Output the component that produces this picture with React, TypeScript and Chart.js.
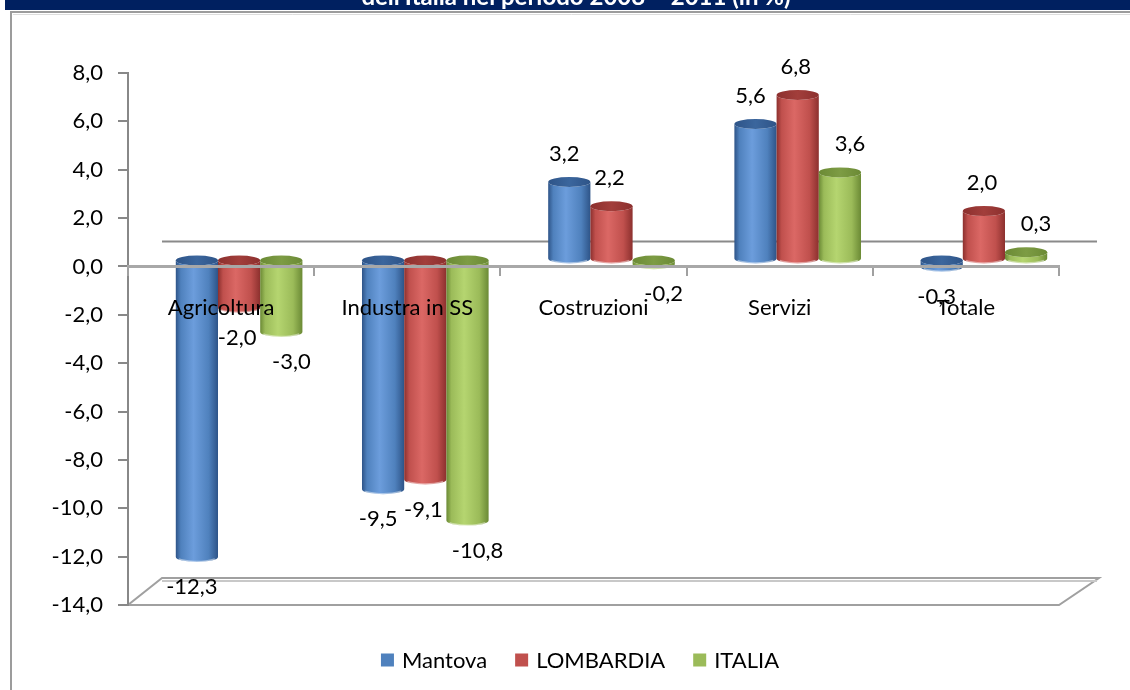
import React, { useEffect, useRef } from "react";
import { Chart, registerables } from "chart.js";

Chart.register(...registerables);

// ---- data ----
const categories = ["Agricoltura", "Industra in SS", "Costruzioni", "Servizi", "Totale"];
const seriesNames = ["Mantova", "LOMBARDIA", "ITALIA"];
const mantova = [-12.3, -9.5, 3.2, 5.6, -0.3];
const lombardia = [-2.0, -9.1, 2.2, 6.8, 2.0];
const italia = [-3.0, -10.8, -0.2, 3.6, 0.3];
const yMin = -14;
const yMax = 8;
const yStep = 2;
const titleText = "dell'Italia nel periodo 2008 \u2013 2011 (in %)";

// ---- styles ----
const FONT = "Lato";
const FS = 22;
const palettes = [
  { base: "#4F81BD", dark: "#2E5488", light: "#6C9DDC", top: "#3B669D" },
  { base: "#C0504D", dark: "#8C302E", light: "#DB6865", top: "#A23E3B" },
  { base: "#9BBB59", dark: "#6B8A35", light: "#B5D570", top: "#7D9C44" },
];
const labelDx = [-5, -2, 10];
const DEPTH_X = 34;
const DEPTH_Y = -25;
const BAR_SHIFT_X = 18;
const BAR_SHIFT_Y = -7;

const fmt = (v: number) => v.toFixed(1).replace(".", ",");

function drawCylinder(ctx: CanvasRenderingContext2D, x: number, yTop: number, yBot: number, w: number, pal: any) {
  const l = x - w / 2;
  const r = x + w / 2;
  const rx = w / 2;
  const ry = 5;
  const g = ctx.createLinearGradient(l, 0, r, 0);
  g.addColorStop(0, pal.dark);
  g.addColorStop(0.12, pal.base);
  g.addColorStop(0.42, pal.light);
  g.addColorStop(0.78, pal.base);
  g.addColorStop(1, pal.dark);
  ctx.beginPath();
  ctx.moveTo(l, yTop);
  ctx.lineTo(l, yBot);
  ctx.ellipse(x, yBot, rx, ry, 0, Math.PI, 0, true);
  ctx.lineTo(r, yTop);
  ctx.ellipse(x, yTop, rx, ry, 0, 0, Math.PI, false);
  ctx.closePath();
  ctx.fillStyle = g;
  ctx.fill();
  // bottom rim highlight
  ctx.beginPath();
  ctx.ellipse(x, yBot, rx - 1, ry - 0.5, 0, Math.PI * 0.85, Math.PI * 0.15, true);
  ctx.strokeStyle = "rgba(255,255,255,0.45)";
  ctx.lineWidth = 1.5;
  ctx.stroke();
  // top cap
  const tg = ctx.createLinearGradient(l, 0, r, 0);
  tg.addColorStop(0, pal.dark);
  tg.addColorStop(0.5, pal.top);
  tg.addColorStop(1, pal.dark);
  ctx.beginPath();
  ctx.ellipse(x, yTop, rx, ry, 0, 0, Math.PI * 2);
  ctx.fillStyle = tg;
  ctx.fill();
}

const scenePlugin = {
  id: "scene",
  beforeDraw(chart: any) {
    const { ctx, chartArea, scales } = chart;
    const W = chart.width;
    ctx.save();
    ctx.fillStyle = "#ffffff";
    ctx.fillRect(0, 0, W, chart.height);
    // title bar (cut off at top)
    ctx.fillStyle = "#002060";
    ctx.fillRect(5, 0, W - 5, 10);
    ctx.save();
    ctx.beginPath();
    ctx.rect(5, 0, W - 5, 10);
    ctx.clip();
    ctx.fillStyle = "#ffffff";
    ctx.font = `bold 24px ${FONT}`;
    ctx.textAlign = "center";
    ctx.textBaseline = "alphabetic";
    ctx.fillText(titleText, 576, 5);
    ctx.restore();
    // frame
    ctx.strokeStyle = "#9C9C9C";
    ctx.lineWidth = 2;
    ctx.beginPath();
    ctx.moveTo(11, chart.height);
    ctx.lineTo(11, 12);
    ctx.lineTo(W, 12);
    ctx.stroke();
    ctx.strokeStyle = "#DDDDDD";
    ctx.lineWidth = 1;
    ctx.beginPath();
    ctx.moveTo(13, 14.5);
    ctx.lineTo(W, 14.5);
    ctx.stroke();
    // floor
    const L = chartArea.left;
    const R = chartArea.right;
    const B = scales.y.getPixelForValue(yMin);
    ctx.beginPath();
    ctx.moveTo(L, B);
    ctx.lineTo(R, B);
    ctx.lineTo(R + DEPTH_X + 6, B + DEPTH_Y - 2);
    ctx.lineTo(L + DEPTH_X, B + DEPTH_Y - 2);
    ctx.closePath();
    ctx.fillStyle = "#ffffff";
    ctx.fill();
    ctx.strokeStyle = "#A0A0A0";
    ctx.lineWidth = 2;
    ctx.stroke();
    ctx.strokeStyle = "#C8C8C8";
    ctx.lineWidth = 2;
    ctx.beginPath();
    ctx.moveTo(L + DEPTH_X, B + DEPTH_Y + 1);
    ctx.lineTo(R + DEPTH_X + 4, B + DEPTH_Y + 1);
    ctx.stroke();
    ctx.restore();
  },
  beforeDatasetsDraw(chart: any) {
    const { ctx, chartArea, scales } = chart;
    ctx.save();
    // back wall zero line
    const y0 = scales.y.getPixelForValue(0);
    ctx.strokeStyle = "#8A8A8A";
    ctx.lineWidth = 2;
    ctx.beginPath();
    ctx.moveTo(chartArea.left + DEPTH_X, y0 + DEPTH_Y);
    ctx.lineTo(chartArea.right + DEPTH_X + 4, y0 + DEPTH_Y);
    ctx.stroke();

    ctx.translate(BAR_SHIFT_X, BAR_SHIFT_Y);
    const n = categories.length;
    for (let j = 0; j < n; j++) {
      chart.data.datasets.forEach((ds: any, i: number) => {
        const el = chart.getDatasetMeta(i).data[j];
        const p = el.getProps(["x", "y", "base", "width"], true);
        const top = Math.min(p.y, p.base);
        const bot = Math.max(p.y, p.base);
        drawCylinder(ctx, p.x, top, bot, p.width, palettes[i]);
      });
    }
    // data labels
    ctx.fillStyle = "#000000";
    ctx.font = `${FS}px ${FONT}`;
    ctx.textAlign = "center";
    ctx.textBaseline = "middle";
    chart.data.datasets.forEach((ds: any, i: number) => {
      chart.getDatasetMeta(i).data.forEach((el: any, j: number) => {
        const v = ds.data[j];
        const p = el.getProps(["x", "y", "base"], true);
        const y = v >= 0 ? p.y - 28 : p.y + 30;
        ctx.fillText(fmt(v), p.x + labelDx[i], y);
      });
    });
    ctx.restore();
    return false;
  },
  afterDraw(chart: any) {
    const { ctx } = chart;
    ctx.save();
    ctx.font = `${FS}px ${FONT}`;
    ctx.textBaseline = "middle";
    ctx.textAlign = "left";
    const box = 13;
    const gap = 8;
    const spacing = 28;
    const widths = seriesNames.map((s) => ctx.measureText(s).width);
    const total = widths.reduce((a, w) => a + box + gap + w, 0) + spacing * (seriesNames.length - 1);
    let x = 580 - total / 2;
    const cy = 660;
    seriesNames.forEach((s, i) => {
      ctx.fillStyle = palettes[i].base;
      ctx.fillRect(x, cy - box / 2, box, box);
      ctx.fillStyle = "#000000";
      ctx.fillText(s, x + box + gap, cy + 1);
      x += box + gap + widths[i] + spacing;
    });
    ctx.restore();
  },
};

export default function App() {
  const ref = useRef<HTMLCanvasElement>(null);
  useEffect(() => {
    document.body.style.margin = "0";
    const canvas = ref.current!;
    const chart = new Chart(canvas, {
      type: "bar",
      data: {
        labels: categories,
        datasets: [mantova, lombardia, italia].map((d, i) => ({
          label: seriesNames[i],
          data: d,
          backgroundColor: palettes[i].base,
          categoryPercentage: 0.68,
          barPercentage: 1,
        })),
      },
      options: {
        responsive: false,
        animation: false,
        devicePixelRatio: 1,
        layout: { padding: { top: 73, right: 71, bottom: 85, left: 0 } },
        plugins: {
          legend: { display: false },
          tooltip: { enabled: false },
          title: { display: false },
        },
        scales: {
          x: {
            type: "category",
            position: { y: 0 } as any,
            offset: true,
            grid: {
              display: true,
              drawOnChartArea: false,
              drawTicks: true,
              tickLength: 8,
              color: "#A0A0A0",
              lineWidth: 2,
              offset: true,
              z: 1,
            },
            border: { display: true, color: "#A8A8A8", width: 3, z: 1 },
            ticks: {
              font: { family: FONT, size: FS },
              color: "#000000",
              padding: 20,
              maxRotation: 0,
              autoSkip: false,
              z: 2,
            },
          },
          y: {
            min: yMin,
            max: yMax,
            ticks: {
              stepSize: yStep,
              callback: (v: any) => fmt(Number(v)),
              font: { family: FONT, size: FS },
              color: "#000000",
              padding: 15,
            },
            grid: { drawOnChartArea: false, drawTicks: true, tickLength: 10, color: "#888888", lineWidth: 2 },
            border: { display: true, color: "#888888", width: 2 },
            afterFit: (s: any) => {
              s.width = 128;
            },
          },
        },
      } as any,
      plugins: [scenePlugin],
    });
    let alive = true;
    if ((document as any).fonts && (document as any).fonts.load) {
      Promise.all([
        (document as any).fonts.load(`${FS}px ${FONT}`),
        (document as any).fonts.load(`bold 24px ${FONT}`),
      ]).then(() => {
        if (alive) chart.update();
      }).catch(() => {});
    }
    return () => {
      alive = false;
      chart.destroy();
    };
  }, []);
  return (
    <div style={{ position: "absolute", left: 0, top: 0, width: 1130, height: 690, background: "#ffffff" }}>
      <canvas ref={ref} width={1130} height={690} style={{ display: "block" }} />
    </div>
  );
}
